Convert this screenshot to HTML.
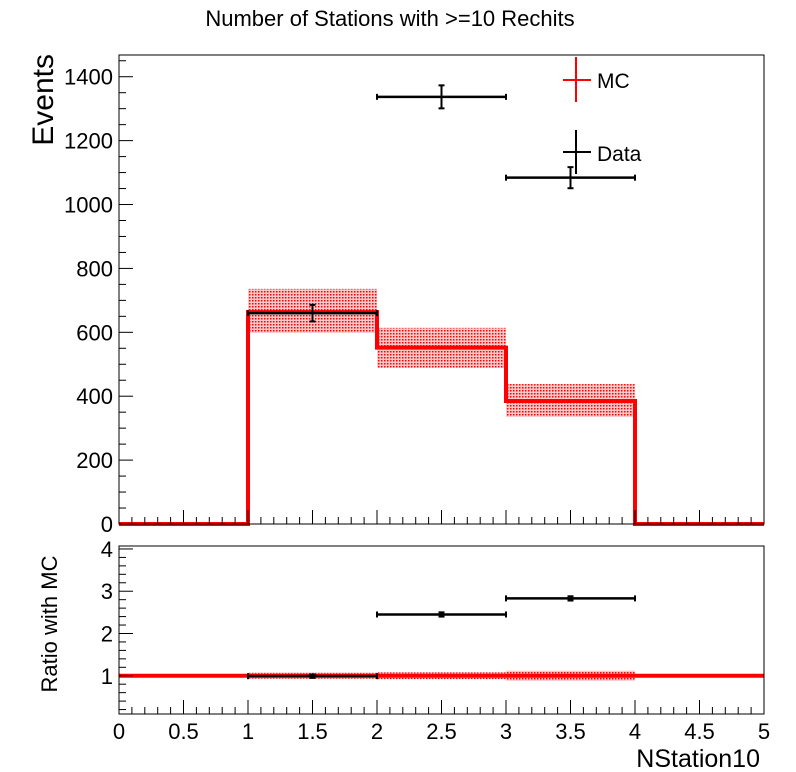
<!DOCTYPE html>
<html><head><meta charset="utf-8"><style>
body{margin:0;background:#fff}
svg{display:block;font-family:"Liberation Sans",Arial,sans-serif}
</style></head><body>
<svg id="c" width="796" height="772" xmlns="http://www.w3.org/2000/svg">
<defs><pattern id="dots" width="3" height="3" patternUnits="userSpaceOnUse"><rect width="3" height="3" fill="#ffc8c8"/><rect width="1.5" height="1.5" fill="#ff0000"/></pattern></defs>
<text x="390" y="26" font-size="22" text-anchor="middle">Number of Stations with &gt;=10 Rechits</text>
<g id="topPanel"></g><g id="botPanel"></g>
</svg>
<script>
const binEdges=[0,1,2,3,4,5];
const mcValues=[0,663,552,385,0];
const mcErrLow=[0,598,489,335,0];
const mcErrHigh=[0,736,614,438,0];
const dataX=[1.5,2.5,3.5];
const dataY=[660,1337,1084];
const dataErr=[26,36,33];
const ratioY=[0.99,2.45,2.83];
const ratioErr=[0.04,0.05,0.05];
const ratioBandLow=[0,0.93,0.92,0.88,0];
const ratioBandHigh=[0,1.07,1.08,1.12,0];
const yTicksTop=[0,200,400,600,800,1000,1200,1400];
const yTicksBot=[1,2,3,4];
const xTicks=[0,0.5,1,1.5,2,2.5,3,3.5,4,4.5,5];
const xTickLabels=["0","0.5","1","1.5","2","2.5","3","3.5","4","4.5","5"];

const NS="http://www.w3.org/2000/svg";
function mk(p,t,a,txt){const e=document.createElementNS(NS,t);for(const k in a)e.setAttribute(k,a[k]);if(txt!==undefined)e.textContent=txt;p.appendChild(e);return e;}
const L=119,R=764;
const X=v=>L+(R-L)*v/5;
const T=55,B=524,yMax=1468;
const Y=v=>B-(B-T)*v/yMax;
const gTop=document.getElementById('topPanel');
for(let i=0;i<5;i++){if(mcErrHigh[i]>mcErrLow[i]){const r=mk(gTop,'rect',{x:X(binEdges[i]),y:Y(mcErrHigh[i]),width:X(binEdges[i+1])-X(binEdges[i]),height:Y(mcErrLow[i])-Y(mcErrHigh[i]),fill:'url(#dots)'});

}}
let d='';for(let i=0;i<5;i++){d+=(i?'L':'M')+X(binEdges[i])+','+Y(mcValues[i])+'L'+X(binEdges[i+1])+','+Y(mcValues[i]);}
const mcp=mk(gTop,'path',{d:d,fill:'none',stroke:'#ff0000','stroke-width':4});


function errPt(g,x,y,ey,Xf,Yf,name){const gg=mk(g,'g',{stroke:'#000','stroke-width':2.5});


mk(gg,'line',{x1:Xf(x-0.5),x2:Xf(x+0.5),y1:Yf(y),y2:Yf(y)});
mk(gg,'line',{x1:Xf(x-0.5),x2:Xf(x-0.5),y1:Yf(y)-3,y2:Yf(y)+3,'stroke-width':2});
mk(gg,'line',{x1:Xf(x+0.5),x2:Xf(x+0.5),y1:Yf(y)-3,y2:Yf(y)+3,'stroke-width':2});
mk(gg,'line',{x1:Xf(x),x2:Xf(x),y1:Yf(y+ey),y2:Yf(y-ey),'stroke-width':2});
mk(gg,'line',{x1:Xf(x)-3,x2:Xf(x)+3,y1:Yf(y+ey),y2:Yf(y+ey),'stroke-width':2});
mk(gg,'line',{x1:Xf(x)-3,x2:Xf(x)+3,y1:Yf(y-ey),y2:Yf(y-ey),'stroke-width':2});}
dataX.forEach((x,i)=>errPt(gTop,x,dataY[i],dataErr[i],X,Y,'data-point'));
const f1=mk(gTop,'rect',{x:L,y:T,width:R-L,height:B-T,fill:'none',stroke:'#000'});


for(let v=0;v<=yMax;v+=50){const maj=v%200===0;mk(gTop,'line',{x1:L,x2:L+(maj?14:7),y1:Y(v),y2:Y(v),stroke:'#000'});}
yTicksTop.forEach(v=>{const t=mk(gTop,'text',{x:L-6,y:Y(v)+8,'font-size':22,'text-anchor':'end'},String(v));

});
for(let i=0;i<=50;i++){const v=i/10;const maj=i%5===0;mk(gTop,'line',{x1:X(v),x2:X(v),y1:B,y2:B-(maj?14:7),stroke:'#000'});}
const yt=mk(gTop,'text',{x:0,y:0,'font-size':30,'text-anchor':'end',transform:'translate(53,54) rotate(-90)'},'Events');


const lg=mk(gTop,'g',{});


mk(lg,'line',{x1:576,x2:576,y1:57,y2:102,stroke:'#ff0000','stroke-width':2});
mk(lg,'line',{x1:563,x2:591,y1:80,y2:80,stroke:'#ff0000','stroke-width':2});
mk(lg,'text',{x:597,y:88,'font-size':21},'MC');
mk(lg,'line',{x1:576,x2:576,y1:130,y2:174,stroke:'#000','stroke-width':2});
mk(lg,'line',{x1:563,x2:591,y1:152,y2:152,stroke:'#000','stroke-width':2});
mk(lg,'text',{x:597,y:161,'font-size':21},'Data');
const T2=546,B2=714,rMin=0.095,rMax=4.07;
const Y2=v=>B2-(B2-T2)*(v-rMin)/(rMax-rMin);
const gBot=document.getElementById('botPanel');
for(let i=0;i<5;i++){if(ratioBandHigh[i]>ratioBandLow[i]){const r=mk(gBot,'rect',{x:X(binEdges[i]),y:Y2(ratioBandHigh[i]),width:X(binEdges[i+1])-X(binEdges[i]),height:Y2(ratioBandLow[i])-Y2(ratioBandHigh[i]),fill:'url(#dots)'});

}}
const one=mk(gBot,'line',{x1:L,x2:R,y1:Y2(1),y2:Y2(1),stroke:'#ff0000','stroke-width':4});


dataX.forEach((x,i)=>errPt(gBot,x,ratioY[i],ratioErr[i],X,Y2,'ratio-point'));
const f2=mk(gBot,'rect',{x:L,y:T2,width:R-L,height:B2-T2,fill:'none',stroke:'#000'});


for(let i=1;i<=20;i++){const vv=i*0.2;if(vv<rMin||vv>rMax)continue;const maj=i%5===0;mk(gBot,'line',{x1:L,x2:L+(maj?14:7),y1:Y2(vv),y2:Y2(vv),stroke:'#000'});}
yTicksBot.forEach(v=>{const t=mk(gBot,'text',{x:L-6,y:Y2(v)+8,'font-size':22,'text-anchor':'end'},String(v));

});
for(let i=0;i<=50;i++){const v=i/10;const maj=i%5===0;mk(gBot,'line',{x1:X(v),x2:X(v),y1:B2,y2:B2-(maj?14:7),stroke:'#000'});}
xTicks.forEach((v,i)=>{const t=mk(gBot,'text',{x:X(v),y:739,'font-size':22,'text-anchor':'middle'},xTickLabels[i]);

});
const xt=mk(gBot,'text',{x:760,y:767,'font-size':25,'text-anchor':'end'},'NStation10');


const rt=mk(gBot,'text',{x:0,y:0,'font-size':22,'text-anchor':'middle',transform:'translate(57,624) rotate(-90)'},'Ratio with MC');


</script>
</body></html>
